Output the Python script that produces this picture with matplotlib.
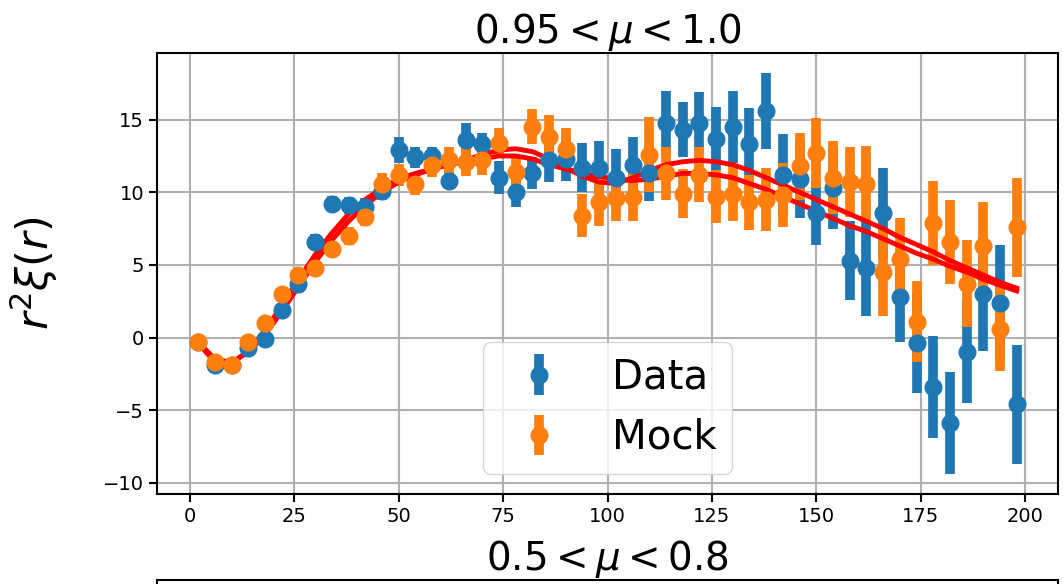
import matplotlib
matplotlib.use("Agg")
import matplotlib.pyplot as plt

# ── Data ───────────────────────────────────────────────────────────────────────
r = [2, 6, 10, 14, 18, 22, 26, 30, 34, 38, 42, 46, 50, 54, 58, 62, 66, 70, 74, 78,
     82, 86, 90, 94, 98, 102, 106, 110, 114, 118, 122, 126, 130, 134, 138, 142,
     146, 150, 154, 158, 162, 166, 170, 174, 178, 182, 186, 190, 194, 198]

data = [-0.3, -1.9, -1.9, -0.7, -0.1, 1.9, 3.7, 6.6, 9.2, 9.1, 9.0, 10.1, 12.9,
        12.4, 12.5, 10.8, 13.6, 13.3, 11.0, 10.0, 11.3, 12.2, 12.3, 11.7, 11.7,
        11.0, 11.9, 11.3, 14.8, 14.3, 14.8, 13.7, 14.5, 13.3, 15.6, 11.2, 10.9,
        8.6, 10.3, 5.3, 4.8, 8.6, 2.8, -0.4, -3.4, -5.9, -1.0, 3.0, 2.4, -4.6]
data_err = [0.3, 0.3, 0.35, 0.4, 0.4, 0.45, 0.5, 0.5, 0.55, 0.6, 0.6, 0.65, 0.9,
            0.7, 0.6, 0.6, 1.15, 0.8, 1.15, 1.0, 1.1, 1.5, 1.5, 1.7, 1.8, 2.0,
            1.9, 1.9, 2.2, 1.9, 2.1, 2.2, 2.5, 2.5, 2.6, 2.8, 2.7, 2.2, 2.8, 2.7,
            3.3, 3.1, 3.1, 3.4, 3.5, 3.5, 3.5, 3.9, 4.0, 4.1]

mock = [-0.3, -1.7, -1.9, -0.3, 1.0, 3.0, 4.3, 4.8, 6.1, 7.0, 8.3, 10.6, 11.2,
        10.6, 11.9, 12.2, 12.1, 12.2, 13.4, 11.4, 14.5, 13.8, 13.0, 8.4, 9.3,
        9.6, 9.7, 12.6, 11.3, 9.9, 11.2, 9.7, 9.9, 9.3, 9.5, 9.8, 11.8, 12.7,
        11.0, 10.7, 10.6, 4.5, 5.4, 1.1, 7.9, 6.6, 3.7, 6.3, 0.6, 7.6]
mock_err = [0.3, 0.3, 0.3, 0.35, 0.4, 0.45, 0.5, 0.5, 0.55, 0.6, 0.65, 0.7, 0.75,
            0.8, 0.85, 0.9, 0.95, 1.0, 1.0, 1.2, 1.2, 1.5, 1.4, 1.5, 1.6, 1.6,
            1.7, 2.6, 1.8, 1.7, 1.9, 1.8, 1.9, 1.9, 2.2, 2.2, 2.3, 2.4, 2.5, 2.4,
            2.6, 3.0, 2.8, 2.8, 2.9, 2.9, 3.0, 3.0, 2.9, 3.4]

# two best-fit model curves (same r grid)
model_a = [-0.4, -1.7, -1.8, -0.9, 0.5, 2.2, 4.0, 5.7, 7.2, 8.5, 9.5, 10.3, 10.9,
           11.3, 11.6, 11.9, 12.2, 12.6, 12.9, 13.0, 12.8, 12.3, 11.7, 11.1, 10.7,
           10.6, 11.0, 11.5, 11.9, 12.1, 12.2, 12.1, 11.9, 11.5, 11.0, 10.5, 10.0,
           9.5, 9.0, 8.5, 8.0, 7.5, 6.9, 6.4, 5.9, 5.3, 4.8, 4.3, 3.8, 3.4]
model_b = [-0.3, -1.5, -1.7, -1.0, 0.2, 1.8, 3.5, 5.2, 6.7, 8.0, 9.1, 10.0, 10.7,
           11.2, 11.6, 11.9, 12.1, 12.3, 12.5, 12.5, 12.3, 11.9, 11.6, 11.3, 11.1,
           10.9, 10.8, 10.9, 11.1, 11.3, 11.3, 11.2, 11.0, 10.6, 10.2, 9.7, 9.2,
           8.7, 8.2, 7.7, 7.3, 6.8, 6.3, 5.8, 5.4, 4.9, 4.5, 4.0, 3.6, 3.2]

# ── Figure ─────────────────────────────────────────────────────────────────────
fig = plt.figure(figsize=(10.63, 5.84), dpi=100)
ax = fig.add_axes([0.148, 0.154, 0.847, 0.755])

ax.errorbar(r, data, yerr=data_err, fmt="o", ms=12, elinewidth=7, label="Data")
ax.errorbar(r, mock, yerr=mock_err, fmt="o", ms=12, elinewidth=7, label="Mock")
ax.plot(r, model_a, color="red", lw=3.5)
ax.plot(r, model_b, color="red", lw=3.5)

ax.grid(True, color="#b0b0b0", lw=1.5)
ax.set_title(r"$0.95 < \mu < 1.0$", fontsize=28)
ax.set_ylabel(r"$r^2\xi(r)$", fontsize=31)
ax.yaxis.set_label_coords(-0.108, 0.5)
ax.tick_params(labelsize=14, width=1.5, length=6)
for sp in ax.spines.values():
    sp.set_linewidth(1.5)
ax.legend(loc="lower center", fontsize=29)

# next panel, only its title and top edge are in view
ax2 = fig.add_axes([0.148, -0.5, 0.847, 0.507])
ax2.set_xticks([]); ax2.set_yticks([])
for sp in ax2.spines.values():
    sp.set_linewidth(1.5)
ax2.set_title(r"$0.5 < \mu < 0.8$", fontsize=28)

fig.savefig("out.png", dpi=100)
